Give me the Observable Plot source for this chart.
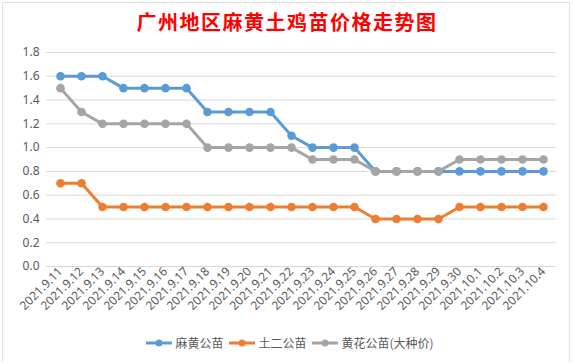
<!DOCTYPE html>
<html>
<head>
<meta charset="utf-8">
<script src="https://cdn.jsdelivr.net/npm/d3@7"></script>
<script src="https://cdn.jsdelivr.net/npm/@observablehq/plot@0.6"></script>
<style>
  html, body { margin: 0; padding: 0; background: #fff; }
  #wrap { position: relative; width: 574px; height: 364px; overflow: hidden; font-family: "Noto Sans CJK SC", "Noto Sans", sans-serif; }
  #frame { position: absolute; left: 2px; top: 2px; width: 568px; height: 360px; border: 1px solid #e0e0e0; border-bottom: none; box-sizing: border-box; pointer-events: none; }
  #title { position: absolute; top: 8px; left: 0; width: 574px; text-align: center; color: #ff0000; font-weight: bold; font-size: 20px; line-height: 28px; letter-spacing: 1.5px; font-family: "Noto Sans CJK SC", sans-serif; }
  #chart { position: absolute; top: 35px; left: 0; }
  #legend { position: absolute; top: 334px; left: 0; width: 574px; display: flex; justify-content: center; gap: 6px; font-size: 12px; color: #595959; padding-left: 6px; box-sizing: border-box; }
  .item { display: flex; align-items: center; gap: 3px; }
</style>
</head>
<body>
<div id="wrap">
  <div id="frame"></div>
  <div id="title">广州地区麻黄土鸡苗价格走势图</div>
  <div id="chart"></div>
  <div id="legend"></div>
</div>
<script>
const dates = ["2021.9.11","2021.9.12","2021.9.13","2021.9.14","2021.9.15","2021.9.16","2021.9.17","2021.9.18","2021.9.19","2021.9.20","2021.9.21","2021.9.22","2021.9.23","2021.9.24","2021.9.25","2021.9.26","2021.9.27","2021.9.28","2021.9.29","2021.9.30","2021.10.1","2021.10.2","2021.10.3","2021.10.4"];
const seriesNames = ["麻黄公苗", "土二公苗", "黄花公苗(大种价)"];
const mahuang = [1.6,1.6,1.6,1.5,1.5,1.5,1.5,1.3,1.3,1.3,1.3,1.1,1.0,1.0,1.0,0.8,0.8,0.8,0.8,0.8,0.8,0.8,0.8,0.8];
const tuer = [0.7,0.7,0.5,0.5,0.5,0.5,0.5,0.5,0.5,0.5,0.5,0.5,0.5,0.5,0.5,0.4,0.4,0.4,0.4,0.5,0.5,0.5,0.5,0.5];
const huanghua = [1.5,1.3,1.2,1.2,1.2,1.2,1.2,1.0,1.0,1.0,1.0,1.0,0.9,0.9,0.9,0.8,0.8,0.8,0.8,0.9,0.9,0.9,0.9,0.9];
const yTicks = [0,0.2,0.4,0.6,0.8,1.0,1.2,1.4,1.6,1.8];
const colors = ["#5b9bd5", "#ed7d31", "#a5a5a5"];

const valuesBySeries = [mahuang, tuer, huanghua];
const data = [];
seriesNames.forEach((s, i) => dates.forEach((d, j) => data.push({date: d, value: valuesBySeries[i][j], series: s})));

const chart = Plot.plot({
  width: 574,
  height: 300,
  marginTop: 17,
  marginBottom: 69,
  marginLeft: 46,
  marginRight: 18,
  style: {fontFamily: "'Noto Sans', sans-serif", fontSize: "12px", color: "#595959", background: "transparent"},
  x: {type: "point", domain: dates, padding: 0.5, label: null, tickRotate: -45, tickSize: 0, tickPadding: 4},
  y: {domain: [0, 1.8], ticks: yTicks, tickFormat: d3.format(".1f"), label: null, tickSize: 0, tickPadding: 7},
  color: {domain: seriesNames, range: colors},
  marks: [
    Plot.ruleY(yTicks, {stroke: "#d9d9d9", strokeWidth: 1}),
    Plot.axisX({tickRotate: -45, tickSize: 0, tickPadding: 3, fontSize: 12, fill: "#595959", label: null}),
    Plot.axisY({ticks: yTicks, tickFormat: d3.format(".1f"), tickSize: 0, tickPadding: 7, fontSize: 12, fill: "#595959", label: null}),
    Plot.line(data, {x: "date", y: "value", z: "series", stroke: "series", strokeWidth: 3, strokeLinejoin: "round"}),
    Plot.dot(data, {x: "date", y: "value", fill: "series", r: 4.3})
  ]
});
document.getElementById("chart").appendChild(chart);

const legend = document.getElementById("legend");
seriesNames.forEach((s, i) => {
  const item = document.createElement("div");
  item.className = "item";
  item.innerHTML = `<svg width="26" height="10"><line x1="0" y1="5" x2="26" y2="5" stroke="${colors[i]}" stroke-width="3"/><circle cx="13" cy="5" r="3.5" fill="${colors[i]}"/></svg><span>${s}</span>`;
  legend.appendChild(item);
});
</script>
</body>
</html>
